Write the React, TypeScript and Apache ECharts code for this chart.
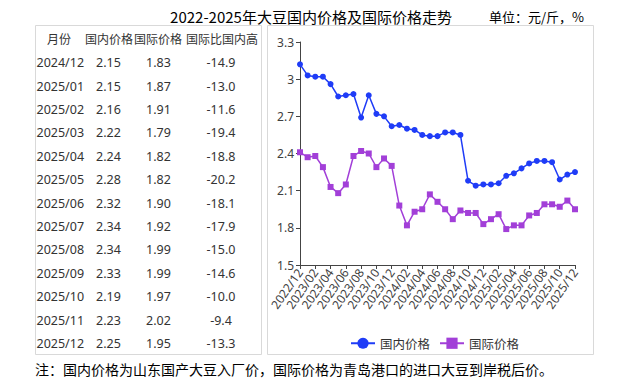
import React, { useEffect, useRef } from "react";
import * as echarts from "echarts";

const categories = [
  "2022/12", "2023/01", "2023/02", "2023/03", "2023/04", "2023/05", "2023/06", "2023/07", "2023/08", "2023/09", "2023/10", "2023/11",
  "2023/12", "2024/01", "2024/02", "2024/03", "2024/04", "2024/05", "2024/06", "2024/07", "2024/08", "2024/09", "2024/10", "2024/11",
  "2024/12", "2025/01", "2025/02", "2025/03", "2025/04", "2025/05", "2025/06", "2025/07", "2025/08", "2025/09", "2025/10", "2025/11",
  "2025/12",
];

const domesticPrice = [
  3.12, 3.03, 3.02, 3.02, 2.96, 2.86, 2.87, 2.88, 2.69, 2.87, 2.72, 2.70,
  2.62, 2.63, 2.60, 2.59, 2.55, 2.54, 2.54, 2.57, 2.57, 2.55, 2.18, 2.14,
  2.15, 2.15, 2.16, 2.22, 2.24, 2.28, 2.32, 2.34, 2.34, 2.33, 2.19, 2.23,
  2.25,
];

const internationalPrice = [
  2.41, 2.37, 2.38, 2.29, 2.13, 2.08, 2.15, 2.38, 2.42, 2.40, 2.29, 2.36,
  2.30, 1.98, 1.82, 1.93, 1.95, 2.07, 2.01, 1.95, 1.87, 1.94, 1.92, 1.92,
  1.83, 1.87, 1.91, 1.79, 1.82, 1.82, 1.90, 1.92, 1.99, 1.99, 1.97, 2.02,
  1.95,
];

const tableHeaders = ["月份", "国内价格", "国际价格", "国际比国内高"];
const tableMonths = [
  "2024/12", "2025/01", "2025/02", "2025/03", "2025/04", "2025/05", "2025/06",
  "2025/07", "2025/08", "2025/09", "2025/10", "2025/11", "2025/12",
];
const tableDomestic = ["2.15", "2.15", "2.16", "2.22", "2.24", "2.28", "2.32", "2.34", "2.34", "2.33", "2.19", "2.23", "2.25"];
const tableInternational = ["1.83", "1.87", "1.91", "1.79", "1.82", "1.82", "1.90", "1.92", "1.99", "1.99", "1.97", "2.02", "1.95"];
const tableDiff = ["-14.9", "-13.0", "-11.6", "-19.4", "-18.8", "-20.2", "-18.1", "-17.9", "-15.0", "-14.6", "-10.0", "-9.4", "-13.3"];

const yTicks = { min: 1.5, max: 3.3, interval: 0.3 };

const titleText = "2022-2025年大豆国内价格及国际价格走势";
const unitText = "单位：元/斤，%";
const noteText = "注：国内价格为山东国产大豆入厂价，国际价格为青岛港口的进口大豆到岸税后价。";
const seriesNames = ["国内价格", "国际价格"];

const BLUE = "#1f3cf7";
const PURPLE = "#a23fd8";
const TXT = "#333333";
const CJK = '"Noto Sans CJK SC", "Noto Sans", sans-serif';
const NUM = '"Noto Sans", "Noto Sans CJK SC", sans-serif';

export default function App() {
  const ref = useRef<HTMLDivElement>(null);

  useEffect(() => {
    if (!ref.current) return;
    const chart = echarts.init(ref.current, undefined, { renderer: "svg" });

    const graphics: any[] = [];
    graphics.push({
      type: "rect",
      shape: { x: 35.5, y: 25.5, width: 226, height: 329 },
      style: { fill: "#fff", stroke: "#d9d9d9", lineWidth: 1 },
      z: -1,
    });
    graphics.push({
      type: "rect",
      shape: { x: 267.5, y: 25.5, width: 326, height: 329 },
      style: { fill: "#fff", stroke: "#d9d9d9", lineWidth: 1 },
      z: -1,
    });
    graphics.push({
      type: "text",
      x: 311,
      y: 16,
      style: { text: titleText, fill: "#000", font: `15px ${CJK}`, textAlign: "center", textVerticalAlign: "middle" },
    });
    graphics.push({
      type: "text",
      x: 489,
      y: 16,
      style: { text: unitText, fill: "#000", font: `13px ${CJK}`, textAlign: "left", textVerticalAlign: "middle" },
    });
    const headerX = [59, 109, 158, 222];
    tableHeaders.forEach((h, i) => {
      graphics.push({
        type: "text",
        x: headerX[i],
        y: 38.5,
        style: { text: h, fill: TXT, font: `12px ${CJK}`, textAlign: "center", textVerticalAlign: "middle" },
      });
    });
    const rowY0 = 62.7;
    const rowStep = 23.4;
    tableMonths.forEach((m, r) => {
      const y = rowY0 + r * rowStep;
      const cells = [
        { t: m, x: 36.5, a: "left" },
        { t: tableDomestic[r], x: 108.5, a: "center" },
        { t: tableInternational[r], x: 158.5, a: "center" },
        { t: tableDiff[r], x: 221, a: "center" },
      ];
      cells.forEach((c) => {
        graphics.push({
          type: "text",
          x: c.x,
          y,
          style: { text: c.t, fill: TXT, font: `12.5px ${NUM}`, textAlign: c.a, textVerticalAlign: "middle" },
        });
      });
    });
    graphics.push({
      type: "text",
      x: 35,
      y: 369,
      style: { text: noteText, fill: "#000", font: `14px ${CJK}`, textAlign: "left", textVerticalAlign: "middle" },
    });

    const everyOther = (idx: number) => idx % 2 === 0;

    chart.setOption({
      animation: false,
      backgroundColor: "#fff",
      grid: { left: 300, right: 52, top: 42, bottom: 114, outerBoundsMode: "none", containLabel: false },
      legend: {
        left: 345,
        top: 332,
        itemWidth: 24,
        itemHeight: 14,
        itemGap: 9,
        textStyle: { fontSize: 12.5, color: TXT, fontFamily: CJK },
        data: seriesNames,
      },
      xAxis: {
        type: "category",
        data: categories,
        boundaryGap: false,
        axisLine: { lineStyle: { color: "#444" } },
        axisTick: { show: true, interval: everyOther, length: 4 },
        axisLabel: {
          interval: everyOther,
          rotate: 55,
          fontSize: 12,
          color: "#404040",
          fontFamily: NUM,
          margin: 5,
          showMinLabel: true,
          showMaxLabel: true,
          hideOverlap: false,
        },
      },
      yAxis: {
        type: "value",
        min: yTicks.min,
        max: yTicks.max,
        interval: yTicks.interval,
        axisLine: { show: true, lineStyle: { color: "#444" } },
        axisTick: { show: true, length: 4 },
        splitLine: { show: false },
        axisLabel: { fontSize: 12, color: "#404040", fontFamily: NUM, margin: 6 },
      },
      series: [
        {
          name: seriesNames[0],
          type: "line",
          data: domesticPrice,
          symbol: "circle",
          symbolSize: 6,
          showAllSymbol: true,
          itemStyle: { color: BLUE },
          lineStyle: { color: BLUE, width: 1.5 },
        },
        {
          name: seriesNames[1],
          type: "line",
          data: internationalPrice,
          symbol: "rect",
          symbolSize: 6,
          showAllSymbol: true,
          itemStyle: { color: PURPLE },
          lineStyle: { color: PURPLE, width: 1.5 },
        },
      ],
      graphic: graphics,
    });

    return () => chart.dispose();
  }, []);

  return <div ref={ref} style={{ position: "absolute", left: 0, top: 0, width: 627, height: 379 }} />;
}
